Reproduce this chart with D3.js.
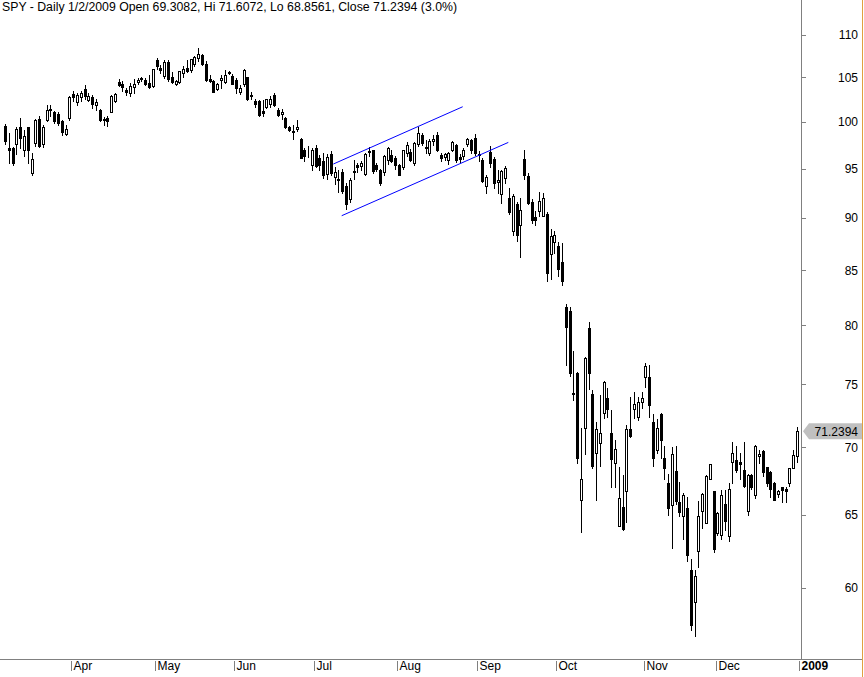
<!DOCTYPE html>
<html><head><meta charset="utf-8">
<script src="https://cdn.jsdelivr.net/npm/d3@7"></script>
<style>body{margin:0;background:#fff;}svg{display:block;}text{font-family:"Liberation Sans",Arial,sans-serif;}</style>
</head><body>
<svg id="chart" width="864" height="677"></svg>
<script>
// ---- data ----
const title = "SPY - Daily 1/2/2009 Open 69.3082, Hi 71.6072, Lo 68.8561, Close 71.2394 (3.0%)";
const lastCloseLabel = "71.2394";
const monthDays = [
 ["2008-03", [6,7,10,11,12,13,14,17,18,19,20,24,25,26,27,28,31]],
 ["2008-04", [1,2,3,4,7,8,9,10,11,14,15,16,17,18,21,22,23,24,25,28,29,30]],
 ["2008-05", [1,2,5,6,7,8,9,12,13,14,15,16,19,20,21,22,23,27,28,29,30]],
 ["2008-06", [2,3,4,5,6,9,10,11,12,13,16,17,18,19,20,23,24,25,26,27,30]],
 ["2008-07", [1,2,3,7,8,9,10,11,14,15,16,17,18,21,22,23,24,25,28,29,30,31]],
 ["2008-08", [1,4,5,6,7,8,11,12,13,14,15,18,19,20,21,22,25,26,27,28,29]],
 ["2008-09", [2,3,4,5,8,9,10,11,12,15,16,17,18,19,22,23,24,25,26,29,30]],
 ["2008-10", [1,2,3,6,7,8,9,10,13,14,15,16,17,20,21,22,23,24,27,28,29,30,31]],
 ["2008-11", [3,4,5,6,7,10,11,12,13,14,17,18,19,20,21,24,25,26,28]],
 ["2008-12", [1,2,3,4,5,8,9,10,11,12,15,16,17,18,19,22,23,24,26,29,30,31]],
 ["2009-01", [2]]
];
const monthLabels = ["Apr","May","Jun","Jul","Aug","Sep","Oct","Nov","Dec","2009"];
const yTicks = [60,65,70,75,80,85,90,95,100,105,110];

const open = [
 99.6,97.2,97.2,97.6,99.4,97.0,99.4,94.6,97.7,100.3,97.6,100.2,101.3,101.1,100.9,100.1,98.7,
 100.4,103.1,102.2,102.8,103.7,102.45,102.8,101.9,101.3,100.3,100.4,101.1,102.3,104.5,104.2,103.6,103.2,103.9,104.5,104.9,104.7,104.4,
 104.0,107.0,106.1,105.2,106.8,105.0,104.2,104.5,105.5,106.1,105.9,106.5,107.3,107.6,106.6,104.8,104.6,103.7,104.7,104.5,105.5,
 105.2,104.7,103.3,104.2,105.0,102.9,102.3,102.3,101.2,101.7,102.0,103.0,101.3,100.9,100.4,99.5,99.0,99.2,98.2,97.0,96.6,
 95.4,97.2,96.1,95.8,94.5,96.5,94.1,93.9,94.7,93.2,91.9,94.8,95.4,95.3,94.5,96.8,97.0,95.4,94.9,94.7,95.95,96.4,
 96.1,95.4,95.2,96.6,96.8,95.6,97.6,98.6,97.3,96.6,97.9,98.6,96.4,96.2,95.9,97.0,97.5,96.2,96.3,97.6,98.0,
 98.3,96.4,95.95,93.2,96.8,96.0,93.6,92.4,94.0,92.0,88.7,91.4,89.3,96.0,94.2,91.6,90.1,90.7,90.2,90.4,86.5,
 87.7,87.3,85.8,81.6,81.3,74.3,75.9,66.1,71.5,79.8,74.2,69.6,70.3,72.7,73.9,71.1,68.8,64.2,65.6,66.7,71.4,73.0,72.4,
 73.6,75.6,75.6,72.0,69.8,72.6,69.2,67.3,65.7,68.2,65.9,64.9,65.5,61.2,59.1,62.5,65.3,64.4,67.6,
 66.7,63.7,63.6,65.8,63.5,68.9,69.0,68.9,68.3,65.3,67.9,66.4,69.3,69.7,68.5,68.1,67.3,66.5,67.0,66.9,67.3,68.4,
 69.3082
];
const high = [
 99.8,98.8,97.3,99.4,100.4,99.15,99.5,96.6,100.3,100.6,99.7,101.9,101.9,101.25,101.1,100.2,99.7,
 102.9,103.5,103.2,103.5,104.15,103.2,103.0,102.6,101.4,100.5,100.6,103.0,103.2,104.8,104.6,103.8,104.4,104.8,104.9,105.1,104.9,105.3,
 106.0,107.3,106.4,107.0,107.0,105.6,104.7,105.8,106.3,107.0,107.2,107.5,108.5,107.7,106.9,105.3,104.7,104.4,105.3,105.9,105.7,
 105.4,104.9,104.1,106.0,105.1,103.3,102.6,102.4,102.4,102.6,102.9,103.2,101.5,101.4,100.5,99.6,99.7,100.2,98.3,97.2,97.4,
 97.2,97.5,96.4,96.6,96.5,96.9,95.2,94.9,95.0,93.5,94.0,95.9,95.6,95.8,96.6,97.3,97.0,95.6,95.0,96.4,97.3,97.0,
 96.3,95.5,97.0,97.8,97.1,97.8,99.4,98.8,98.0,98.2,98.6,98.9,96.6,96.7,96.8,97.9,97.6,96.5,97.2,98.3,98.1,
 98.7,96.9,96.1,94.3,97.4,96.2,94.9,94.9,95.3,93.0,92.4,91.6,92.0,97.0,94.6,91.9,90.7,92.6,92.5,90.6,88.9,
 88.7,87.7,87.6,81.9,81.6,77.8,76.0,71.5,77.3,80.3,74.5,72.0,74.1,75.3,74.7,72.9,70.6,68.5,67.9,71.7,73.95,74.4,74.0,
 74.4,76.8,76.6,72.6,72.2,72.7,70.1,68.0,70.0,70.1,67.4,66.6,66.3,61.9,61.2,66.0,66.6,67.9,68.7,
 66.7,65.2,66.8,66.8,67.3,70.4,70.1,69.6,70.4,68.0,68.0,70.2,69.8,69.8,68.5,68.2,67.4,66.8,67.0,67.0,68.4,69.8,
 71.6072
];
const low = [
 97.6,95.6,95.4,96.5,97.2,96.3,95.6,94.4,97.4,97.3,97.3,100.1,100.6,99.9,99.7,98.6,98.6,
 100.2,102.3,101.9,102.3,102.6,102.3,101.5,101.3,100.1,99.7,99.6,101.1,102.2,104.0,103.5,103.0,102.9,103.2,104.2,104.6,104.1,103.8,
 103.9,106.0,105.5,104.9,104.6,104.4,104.1,104.4,105.1,105.6,105.6,106.3,106.9,106.4,104.6,104.5,103.3,103.6,103.8,104.4,105.4,
 104.2,103.2,103.1,104.0,102.4,102.5,101.7,100.6,100.7,101.5,101.7,101.8,100.6,100.3,99.3,99.0,98.2,99.0,96.1,95.8,96.2,
 94.9,95.2,94.9,94.0,93.9,94.4,93.4,92.6,92.5,90.9,91.6,93.9,94.7,94.9,94.3,96.3,94.6,94.8,93.3,94.4,95.5,95.7,
 95.0,94.3,95.0,96.3,95.8,95.4,97.4,97.5,96.6,96.4,97.5,96.9,95.8,95.9,95.5,96.9,95.7,95.7,96.0,97.4,96.7,
 96.4,95.8,93.6,92.5,95.2,93.0,92.5,91.5,93.5,90.4,88.3,87.8,86.2,93.9,91.4,89.5,89.3,90.2,90.2,84.0,84.2,
 86.6,84.5,83.6,76.6,75.7,73.7,68.8,63.8,69.5,74.6,68.4,66.1,68.6,72.3,72.4,67.0,67.0,64.2,63.9,64.5,70.8,72.3,72.1,
 73.1,74.8,72.4,68.6,69.6,69.2,67.6,65.0,62.7,65.8,64.9,63.3,61.8,57.3,56.9,61.4,64.1,64.4,67.6,
 62.4,63.6,63.3,63.9,63.2,67.3,68.1,67.6,67.0,65.0,66.9,66.2,68.8,67.8,67.1,66.3,66.1,66.3,65.9,65.9,67.1,68.4,
 68.8561
];
const close = [
 97.9,97.0,95.6,99.2,98.3,98.5,97.0,96.0,100.2,97.4,99.4,101.3,101.45,100.1,99.9,98.9,99.2,
 102.8,102.8,103.0,103.2,102.9,102.9,102.0,102.2,100.2,100.2,100.1,102.9,103.1,104.1,103.9,103.3,104.0,104.2,104.7,104.8,104.3,103.9,
 106.0,106.3,105.9,106.8,104.8,104.5,104.6,105.7,106.0,105.7,107.2,107.4,107.7,106.6,104.7,104.6,103.3,104.3,104.9,105.3,105.6,
 104.3,103.8,103.8,105.9,102.5,102.95,102.0,100.8,101.0,102.5,102.6,101.9,100.8,101.1,99.4,99.1,98.9,99.4,96.1,96.3,96.6,
 97.0,95.3,95.4,94.4,96.2,94.6,94.7,93.8,92.7,91.4,93.8,94.7,95.2,95.6,96.5,96.85,94.8,95.0,93.5,96.3,97.2,95.8,
 95.4,94.4,97.0,97.5,95.95,97.7,98.8,97.7,97.2,97.9,98.1,97.0,96.1,96.5,96.6,97.8,95.9,96.0,97.0,98.2,97.0,
 96.6,96.5,93.7,94.1,95.6,93.5,93.8,94.8,95.1,90.6,92.2,88.3,90.8,94.3,91.5,89.8,89.8,91.7,91.96,84.7,88.2,
 88.3,85.1,84.0,79.9,75.9,74.2,69.2,67.6,77.2,75.9,68.6,71.4,71.1,75.2,73.0,69.1,69.9,66.2,64.0,71.4,70.9,73.4,73.6,
 73.9,76.5,73.3,69.2,71.5,70.6,68.4,65.5,69.5,66.0,65.2,66.4,62.2,57.6,60.8,64.9,66.5,67.8,68.7,
 62.6,65.1,66.4,64.6,66.9,69.6,68.3,68.7,67.1,67.9,67.0,70.1,69.5,68.1,67.3,66.9,66.1,66.7,66.8,66.7,68.4,69.4,
 71.2394
];
// channel lines drawn on the chart: [trading-day position, price]
const upperChannel = [[86.65, 95.49], [120.8, 101.68]];
const lowerChannel = [[88.86, 90.23], [132.83, 97.78]];

// ---- build ----
const dates = [];
monthDays.forEach(([ym, days]) => days.forEach(d => dates.push(ym + "-" + String(d).padStart(2, "0"))));
const bars = dates.map((dt, i) => ({dt, i, o: open[i], h: high[i], l: low[i], c: close[i]}));

const svg = d3.select("#chart");
svg.append("rect").attr("width", 864).attr("height", 677).attr("fill", "#fff");

const axisX = 801;      // right price axis
const baseY = 659;      // bottom date axis
const x = d3.scaleLinear().domain([-1.32, 210.08]).range([0, axisX]);
const y = d3.scaleLog().domain([60, 110]).range([587.9, 35]);

// title
svg.append("text").attr("x", 2).attr("y", 11).attr("font-size", 12).attr("fill", "#000")
  .attr("textLength", 455).attr("lengthAdjust", "spacingAndGlyphs").text(title);

// candles
const cg = svg.append("g").attr("shape-rendering", "crispEdges");
const cx = d => Math.round(x(d.i));
cg.selectAll("line.wick").data(bars).join("line").attr("class", "wick")
  .attr("x1", d => cx(d) + 0.5).attr("x2", d => cx(d) + 0.5)
  .attr("y1", d => Math.round(y(d.h))).attr("y2", d => Math.round(y(d.l)) + 1)
  .attr("stroke", "#000").attr("stroke-width", 1);
cg.selectAll("rect.down").data(bars.filter(d => d.c < d.o)).join("rect").attr("class", "down")
  .attr("x", d => cx(d) - 1).attr("width", 3)
  .attr("y", d => Math.round(y(d.o)))
  .attr("height", d => Math.max(1, Math.round(y(d.c)) - Math.round(y(d.o)) + 1))
  .attr("fill", "#000");
cg.selectAll("rect.up").data(bars.filter(d => d.c >= d.o)).join("rect").attr("class", "up")
  .attr("x", d => cx(d) - 0.5).attr("width", 2)
  .attr("y", d => Math.round(y(d.c)) + 0.5)
  .attr("height", d => Math.max(0, Math.round(y(d.o)) - Math.round(y(d.c))))
  .attr("fill", "#fff").attr("stroke", "#000").attr("stroke-width", 1);

// channel
[upperChannel, lowerChannel].forEach(seg => {
  svg.append("line")
    .attr("x1", x(seg[0][0])).attr("y1", y(seg[0][1]))
    .attr("x2", x(seg[1][0])).attr("y2", y(seg[1][1]))
    .attr("stroke", "#0000ff").attr("stroke-width", 1);
});

// right axis
svg.append("line").attr("x1", axisX + 0.5).attr("x2", axisX + 0.5).attr("y1", 0).attr("y2", baseY + 1)
  .attr("stroke", "#808080").attr("shape-rendering", "crispEdges");
const ya = svg.append("g").attr("shape-rendering", "crispEdges");
yTicks.forEach(v => {
  const yy = Math.round(y(v)) + 0.5;
  ya.append("line").attr("x1", axisX).attr("x2", axisX + 5).attr("y1", yy).attr("y2", yy).attr("stroke", "#808080");
  svg.append("text").attr("x", 858).attr("y", y(v)).attr("dy", "0.36em").attr("text-anchor", "end")
    .attr("font-size", 12).attr("fill", "#000").text(v);
});

// last-price tag
const ly = y(close[close.length - 1]);
svg.append("path")
  .attr("d", `M${axisX + 2},${ly} L${axisX + 8},${ly - 8} L862,${ly - 8} L862,${ly + 8} L${axisX + 8},${ly + 8} Z`)
  .attr("fill", "#c0c0c0");
svg.append("text").attr("x", 858).attr("y", ly).attr("dy", "0.36em").attr("text-anchor", "end")
  .attr("font-size", 12).attr("fill", "#000").text(lastCloseLabel);

// bottom axis
svg.append("line").attr("x1", 0).attr("x2", 862).attr("y1", baseY + 0.5).attr("y2", baseY + 0.5)
  .attr("stroke", "#808080").attr("shape-rendering", "crispEdges");
const firstIdx = [];
bars.forEach((b, i) => { if (i > 0 && b.dt.slice(0, 7) !== bars[i - 1].dt.slice(0, 7)) firstIdx.push(i); });
firstIdx.forEach((idx, k) => {
  const tx = Math.round(x(idx)) + 2.5;
  svg.append("line").attr("x1", tx).attr("x2", tx).attr("y1", baseY + 2).attr("y2", baseY + 12)
    .attr("stroke", "#808080").attr("shape-rendering", "crispEdges");
  svg.append("text").attr("x", tx + 2).attr("y", baseY + 11).attr("font-size", 12)
    .attr("font-weight", monthLabels[k] === "2009" ? "bold" : "normal").attr("fill", "#000").text(monthLabels[k]);
});

// window frame edge
svg.append("line").attr("x1", 862.5).attr("x2", 862.5).attr("y1", 0).attr("y2", 677)
  .attr("stroke", "#e0a040").attr("shape-rendering", "crispEdges");
</script>
</body></html>
